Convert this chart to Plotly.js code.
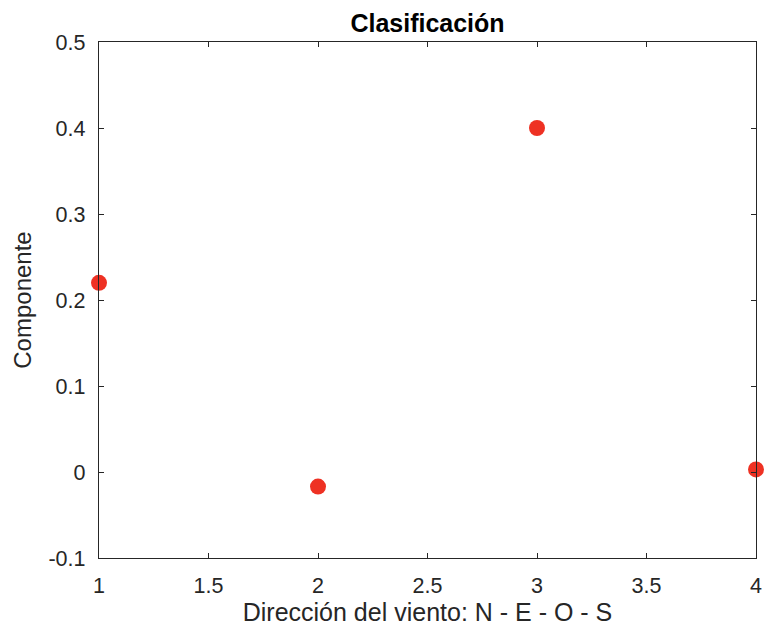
<!DOCTYPE html>
<html>
<head>
<meta charset="utf-8">
<script src="https://cdn.plot.ly/plotly-3.0.1.min.js"></script>
<style>html,body{margin:0;padding:0;background:#fff;}#chart{width:764px;height:630px;}</style>
</head>
<body>
<div id="chart"></div>
<script>
// Wind direction index (N, E, O, S) and the component value for each
const direccion = [1, 2, 3, 4];
const componente = [0.22, -0.017, 0.40, 0.003];
const xTicks = [1, 1.5, 2, 2.5, 3, 3.5, 4];
const yTicks = [-0.1, 0, 0.1, 0.2, 0.3, 0.4, 0.5];

const fontFamily = 'Liberation Sans, Arial, Helvetica, sans-serif';

const trace = {
  x: direccion,
  y: componente,
  type: 'scatter',
  mode: 'markers',
  marker: { color: '#EE3123', size: 16 },
  cliponaxis: false,
  hoverinfo: 'x+y'
};

const axisCommon = {
  showgrid: false,
  zeroline: false,
  showline: true,
  mirror: 'ticks',
  linecolor: '#262626',
  linewidth: 1.2,
  ticks: 'inside',
  ticklen: 5,
  tickcolor: '#262626',
  tickfont: { family: fontFamily, size: 21.5, color: '#262626' }
};

const layout = {
  width: 764,
  height: 630,
  margin: { l: 99, r: 8, t: 42, b: 72 },
  paper_bgcolor: '#ffffff',
  plot_bgcolor: '#ffffff',
  showlegend: false,
  title: {
    text: '<b>Clasificación</b>',
    font: { family: fontFamily, size: 25, color: '#000000' },
    x: 0.5, xanchor: 'center', xref: 'paper',
    y: 1, yref: 'paper', yanchor: 'bottom', pad: { b: 10 }
  },
  xaxis: Object.assign({}, axisCommon, {
    range: [1, 4],
    tickvals: xTicks,
    ticktext: xTicks.map(String),
    ticklabelstandoff: 8,
    title: { text: 'Dirección del viento: N - E - O - S', font: { family: fontFamily, size: 25, color: '#262626' }, standoff: 6 }
  }),
  yaxis: Object.assign({}, axisCommon, {
    range: [-0.1, 0.5],
    tickvals: yTicks,
    ticktext: yTicks.map(v => String(Math.round(v * 10) / 10)),
    ticklabelstandoff: 8,
    title: { text: 'Componente', font: { family: fontFamily, size: 24, color: '#262626' }, standoff: 10 }
  })
};

Plotly.newPlot('chart', [trace], layout, { displayModeBar: false, staticPlot: true });
</script>
</body>
</html>
